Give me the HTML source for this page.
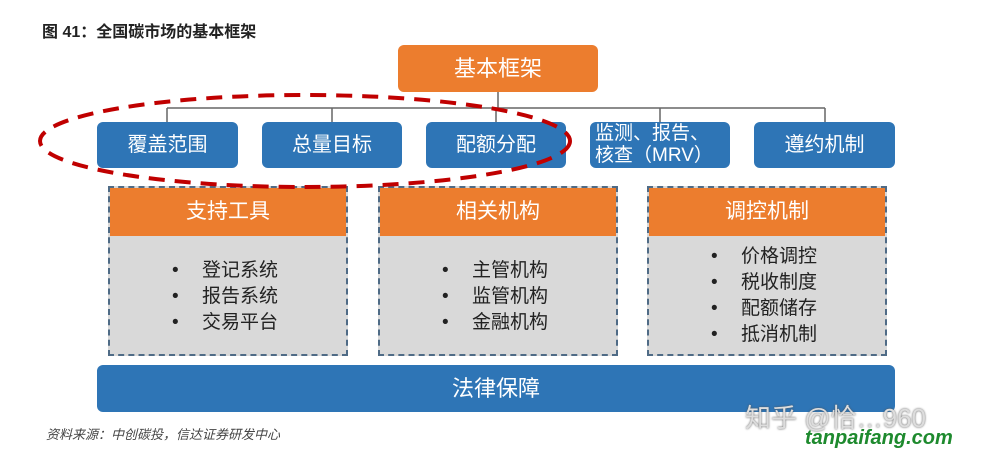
<!DOCTYPE html>
<html><head><meta charset="utf-8"><style>
body{margin:0;width:1000px;height:458px;background:#fff;position:relative;overflow:hidden;font-family:"Liberation Sans","Noto Sans CJK SC",sans-serif}
.a{position:absolute;box-sizing:border-box}
.or{background:#ec7d2e;color:#fff;text-align:center}
.bl{background:#2e75b6;color:#fff;text-align:center;border-radius:6px;font-size:20px;line-height:46px}
.pan{border:2px dashed #4f6b86;background:#d9d9d9}
.pan .or{height:48px;line-height:48px;font-size:21px}
.pan ul{margin:0;padding:0;list-style:none;color:#222;font-size:19px;line-height:26px}
.pan li:before{content:"•";display:inline-block;width:30px;text-align:left}
</style></head><body>
<div class="a" style="left:42px;top:18px;font-size:16px;font-weight:bold;color:#222;font-family:'Liberation Sans','Noto Sans CJK SC',sans-serif">图 41：全国碳市场的基本框架</div>
<div class="a or" style="left:398px;top:45px;width:200px;height:47px;line-height:47px;font-size:22px;border-radius:6px">基本框架</div>
<svg class="a" style="left:0;top:0" width="1000" height="458">
<g stroke="#666" stroke-width="1.5" fill="none">
<line x1="498" y1="92" x2="498" y2="108"/><line x1="167" y1="108" x2="825" y2="108"/>
<line x1="167" y1="108" x2="167" y2="122"/><line x1="332" y1="108" x2="332" y2="122"/><line x1="496" y1="108" x2="496" y2="122"/><line x1="660" y1="108" x2="660" y2="122"/><line x1="825" y1="108" x2="825" y2="122"/>
</g>
</svg>
<div class="a bl" style="left:97px;top:122px;width:141px;height:46px">覆盖范围</div>
<div class="a bl" style="left:262px;top:122px;width:140px;height:46px">总量目标</div>
<div class="a bl" style="left:426px;top:122px;width:140px;height:46px">配额分配</div>
<div class="a bl" style="left:590px;top:122px;width:140px;height:46px;line-height:22px;padding-top:1px;text-align:left;padding-left:5px;font-size:19px">监测、报告、<br>核查（MRV）</div>
<div class="a bl" style="left:754px;top:122px;width:141px;height:46px">遵约机制</div>
<div class="a pan" style="left:108px;top:186px;width:240px;height:170px"><div class="or">支持工具</div><ul style="padding:22px 0 0 62px"><li>登记系统</li><li>报告系统</li><li>交易平台</li></ul></div>
<div class="a pan" style="left:378px;top:186px;width:240px;height:170px"><div class="or">相关机构</div><ul style="padding:22px 0 0 62px"><li>主管机构</li><li>监管机构</li><li>金融机构</li></ul></div>
<div class="a pan" style="left:647px;top:186px;width:240px;height:170px"><div class="or">调控机制</div><ul style="padding:8px 0 0 62px"><li>价格调控</li><li>税收制度</li><li>配额储存</li><li>抵消机制</li></ul></div>
<div class="a bl" style="left:97px;top:365px;width:798px;height:47px;line-height:47px;font-size:22px">法律保障</div>
<svg class="a" style="left:0;top:0" width="1000" height="458"><ellipse cx="305" cy="141" rx="265" ry="46" fill="none" stroke="#c00000" stroke-width="4" stroke-dasharray="16 10"/></svg>
<div class="a" style="left:46px;top:424px;font-size:13px;font-style:italic;color:#444">资料来源：中创碳投，信达证券研发中心</div>
<div class="a" style="left:745px;top:398px;font-size:26px;color:#ddd;text-shadow:0 0 2px #555">知乎 @恰…960</div>
<div class="a" style="left:805px;top:427px;font-size:20px;font-weight:bold;font-style:italic;color:#1e8a2e">tanpaifang.com</div>
</body></html>
